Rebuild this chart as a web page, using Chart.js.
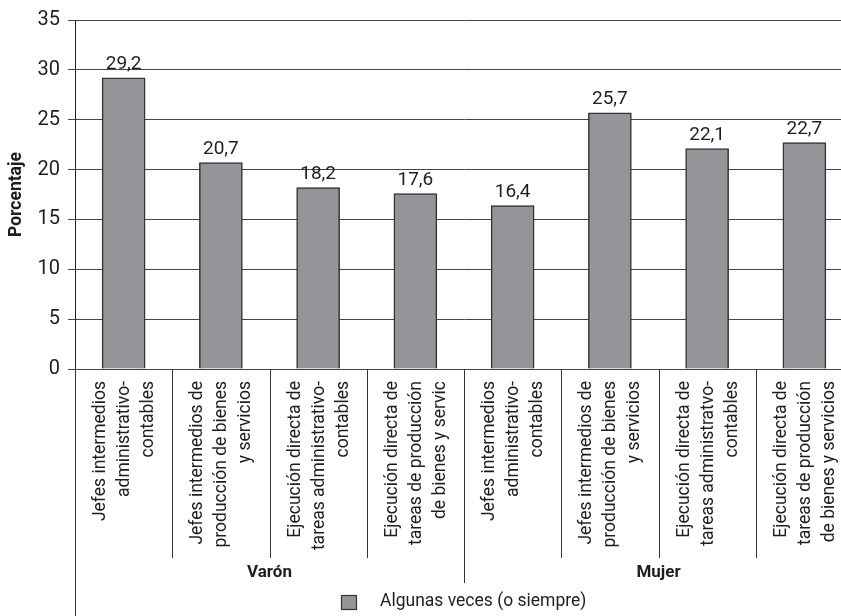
<!DOCTYPE html>
<html lang="es">
<head>
<meta charset="utf-8">
<title>Porcentaje por ocupación y sexo</title>
<script src="https://cdn.jsdelivr.net/npm/chart.js@4/dist/chart.umd.min.js"></script>
<style>
  html, body { margin: 0; padding: 0; background: #fff; overflow: hidden; }
  #wrap { position: relative; width: 860px; height: 616px; }
</style>
</head>
<body>
<div id="wrap"><canvas id="chart"></canvas></div>
<script>
// Sexes, each spanning four occupational categories
const groups = ['Varón', 'Mujer'];

// Occupational category labels, one array of text lines per bar
const categoryLines = [
  ['Jefes intermedios', 'administrativo-', 'contables'],
  ['Jefes intermedios de', 'producción de bienes', 'y servicios'],
  ['Ejecución directa de', 'tareas administrativo-', 'contables'],
  ['Ejecución directa de', 'tareas de producción', 'de bienes y servic'],
  ['Jefes intermedios', 'administrativo-', 'contables'],
  ['Jefes intermedios de', 'producción de bienes', 'y servicios'],
  ['Ejecución directa de', 'tareas administratvo-', 'contables'],
  ['Ejecución directa de', 'tareas de producción', 'de bienes y servicios']
];

// Percentage answering "Algunas veces (o siempre)"
const values = [29.2, 20.7, 18.2, 17.6, 16.4, 25.7, 22.1, 22.7];

const seriesName = 'Algunas veces (o siempre)';
const yTitle = 'Porcentaje';
const yMin = 0, yMax = 35, yStep = 5;

const FONT = 'Roboto, "Liberation Sans", sans-serif';
const INK = '#1e1e1e';
const BAR_FILL = '#939598';
const BAR_EDGE = '#333333';

const fmt = v => v.toFixed(1).replace('.', ',');

// Value labels above every bar
const valueLabels = {
  id: 'valueLabels',
  afterDatasetsDraw(chart) {
    const ctx = chart.ctx;
    const meta = chart.getDatasetMeta(0);
    ctx.save();
    ctx.font = '19px ' + FONT;
    ctx.fillStyle = INK;
    ctx.textAlign = 'center';
    ctx.textBaseline = 'bottom';
    meta.data.forEach((bar, i) => {
      ctx.fillText(fmt(values[i]), bar.x, bar.y - 4);
    });
    ctx.restore();
  }
};

// Category dividers, rotated category text, group names and legend
const categoryAxis = {
  id: 'categoryAxis',
  afterDraw(chart) {
    const ctx = chart.ctx;
    const xs = chart.scales.x;
    const area = chart.chartArea;
    const n = categoryLines.length;
    const half = (xs.right - xs.left) / n / 2;
    const edge = i => (i === 0 ? xs.left : i === n ? xs.right
      : (xs.getPixelForValue(i - 1) + xs.getPixelForValue(i)) / 2);

    ctx.save();
    ctx.strokeStyle = '#333';
    ctx.lineWidth = 1;
    for (let i = 0; i <= n; i++) {
      const x = Math.round(edge(i)) + 0.5;
      let yEnd = 558;
      if (i === 0) yEnd = chart.height;
      else if (i % 4 === 0) yEnd = 583;
      ctx.beginPath();
      ctx.moveTo(x, area.bottom);
      ctx.lineTo(x, yEnd);
      ctx.stroke();
    }

    // rotated multi-line category labels, ending just below the axis
    ctx.font = '17.5px ' + FONT;
    ctx.fillStyle = INK;
    ctx.textAlign = 'right';
    ctx.textBaseline = 'middle';
    const lh = 24;
    categoryLines.forEach((lines, i) => {
      const cx = xs.getPixelForValue(i);
      lines.forEach((line, k) => {
        const off = (k - (lines.length - 1) / 2) * lh + 1;
        ctx.save();
        ctx.translate(cx + off, area.bottom + 12);
        ctx.rotate(-Math.PI / 2);
        ctx.fillText(line, 0, 0);
        ctx.restore();
      });
    });

    // group names centred under their four categories
    ctx.font = 'bold 17px ' + FONT;
    ctx.textAlign = 'center';
    groups.forEach((g, j) => {
      const x = (edge(j * 4) + edge(j * 4 + 4)) / 2;
      ctx.fillText(g, x, 573);
    });

    // legend
    const ds = chart.data.datasets[0];
    ctx.fillStyle = ds.backgroundColor;
    ctx.fillRect(341, 595, 16, 15);
    ctx.strokeStyle = ds.borderColor;
    ctx.lineWidth = 1.2;
    ctx.strokeRect(341.5, 595.5, 15, 14);
    ctx.fillStyle = INK;
    ctx.font = '17.5px ' + FONT;
    ctx.textAlign = 'left';
    ctx.fillText(ds.label, 380, 602);
    ctx.restore();
  }
};

new Chart(document.getElementById('chart'), {
  type: 'bar',
  data: {
    labels: categoryLines.map(l => l.join(' ')),
    datasets: [{
      label: seriesName,
      data: values,
      backgroundColor: BAR_FILL,
      borderColor: BAR_EDGE,
      borderWidth: 1.5,
      barThickness: 43
    }]
  },
  options: {
    responsive: true,
    maintainAspectRatio: false,
    animation: false,
    layout: { padding: { top: 17, right: 7, bottom: 247, left: 0 } },
    plugins: { legend: { display: false }, tooltip: { enabled: false } },
    scales: {
      x: {
        display: false,
        offset: true
      },
      y: {
        min: yMin,
        max: yMax,
        ticks: {
          stepSize: yStep,
          font: { family: FONT, size: 20 },
          color: INK,
          padding: 8
        },
        grid: {
          color: '#444',
          lineWidth: 1,
          tickLength: 7,
          drawTicks: true
        },
        border: { display: true, color: '#222', width: 1 },
        title: {
          display: true,
          text: yTitle,
          font: { family: FONT, size: 17.5, weight: 'bold' },
          color: INK,
          padding: { top: 6, bottom: 0 }
        },
        afterFit(scale) { scale.width = 75; }
      }
    }
  },
  plugins: [valueLabels, categoryAxis]
});
</script>
</body>
</html>
